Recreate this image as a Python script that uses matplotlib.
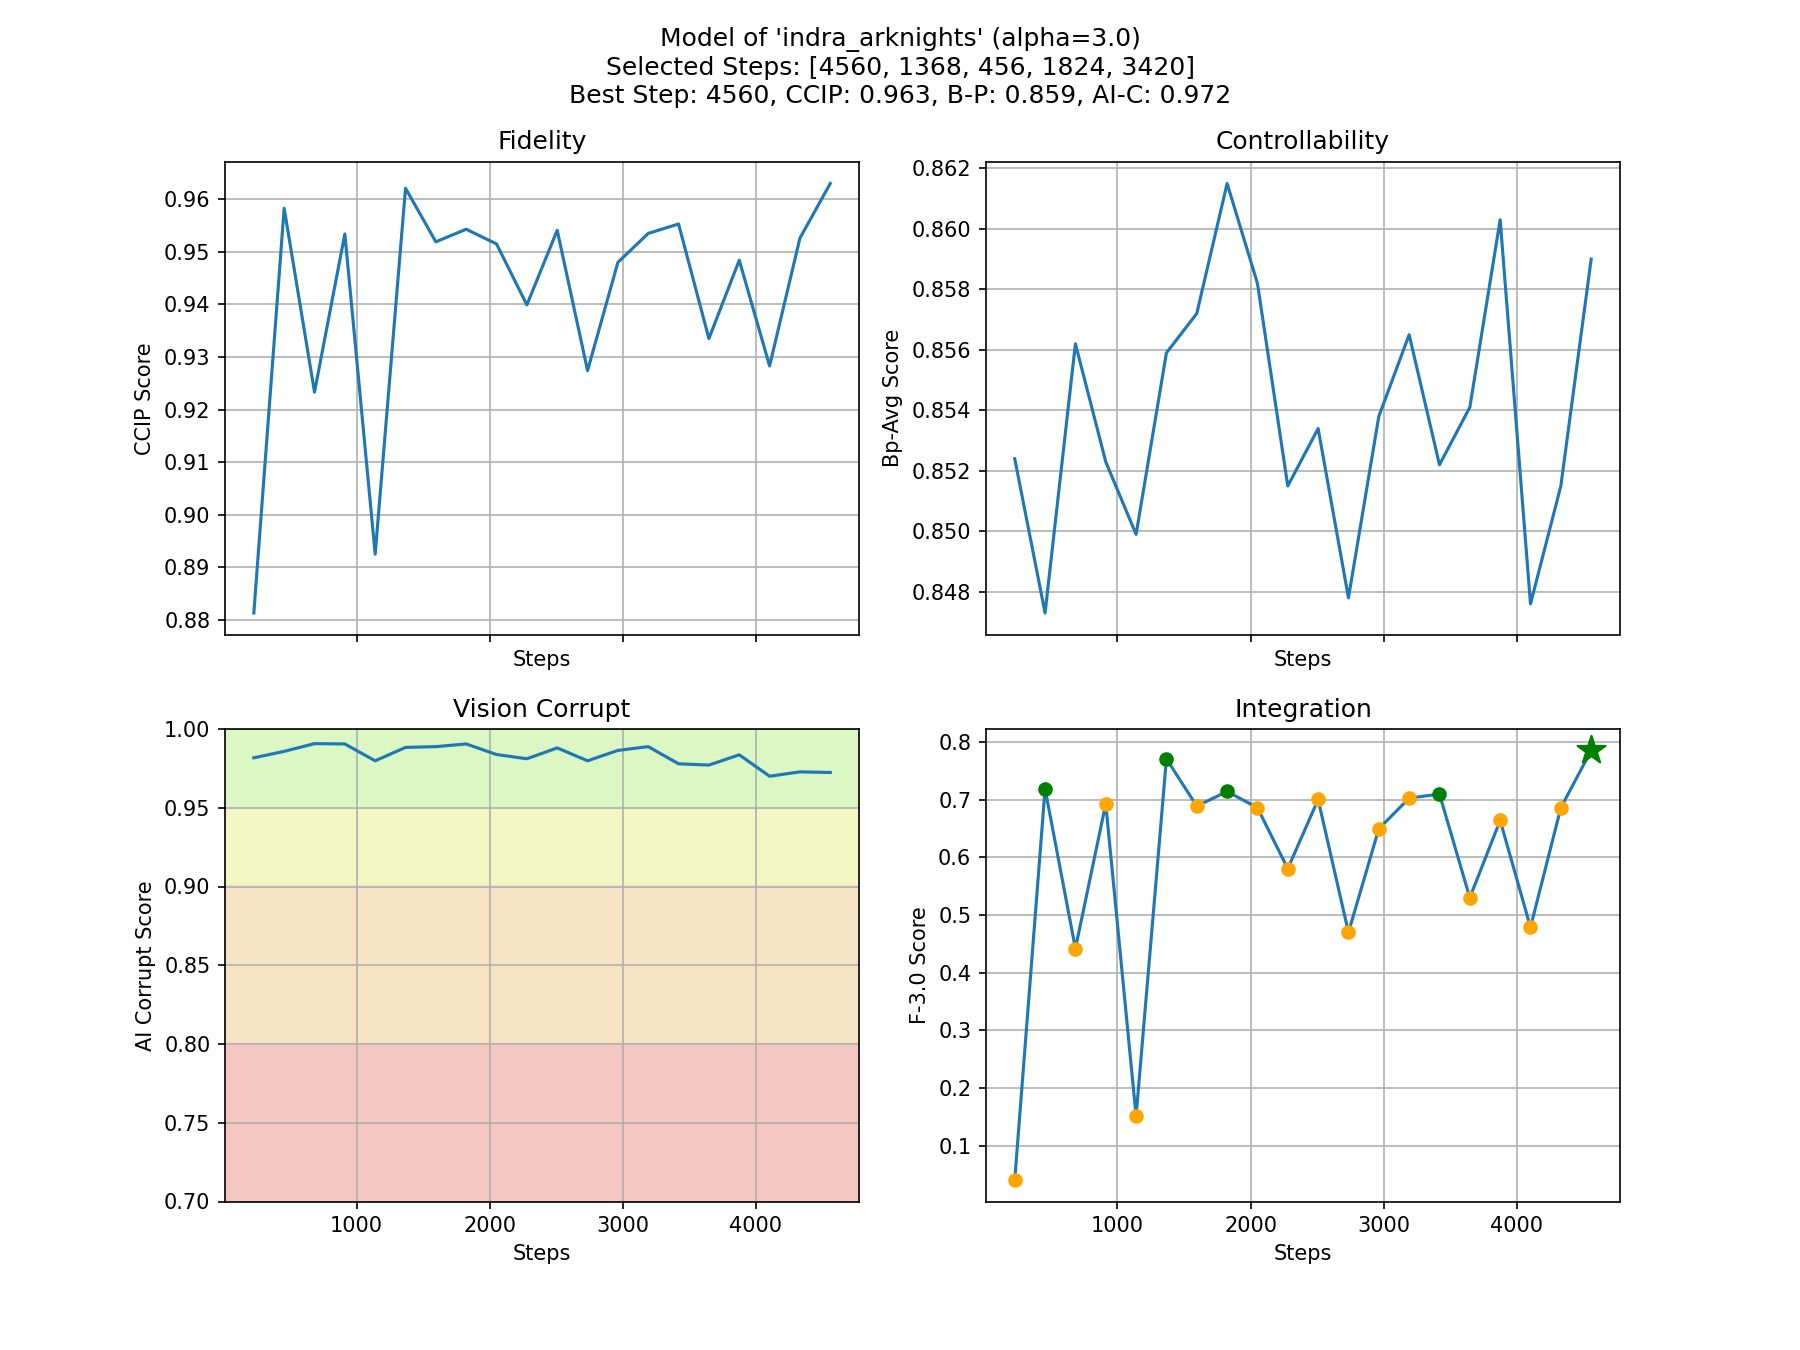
import matplotlib

matplotlib.use("Agg")
import matplotlib.pyplot as plt

# Data
steps = [228, 456, 684, 912, 1140, 1368, 1596, 1824, 2052, 2280,
         2508, 2736, 2964, 3192, 3420, 3648, 3876, 4104, 4332, 4560]
ccip = [0.8813, 0.9583, 0.9233, 0.9534, 0.8925, 0.9621, 0.9519, 0.9543, 0.9515, 0.9399,
        0.9541, 0.9274, 0.9480, 0.9535, 0.9553, 0.9335, 0.9484, 0.9283, 0.9526, 0.9630]
bp = [0.8524, 0.8473, 0.8562, 0.8523, 0.8499, 0.8559, 0.8572, 0.8615, 0.8582, 0.8515,
      0.8534, 0.8478, 0.8538, 0.8565, 0.8522, 0.8541, 0.8603, 0.8476, 0.8515, 0.8590]
aic = [0.9817, 0.9858, 0.9907, 0.9905, 0.9798, 0.9883, 0.9888, 0.9905, 0.9838, 0.9811,
       0.9880, 0.9798, 0.9864, 0.9888, 0.9779, 0.9771, 0.9836, 0.9700, 0.9728, 0.9724]
fscore = [0.0403, 0.7191, 0.4418, 0.6931, 0.1512, 0.7711, 0.6891, 0.7145, 0.6862, 0.5805,
          0.7006, 0.4700, 0.6497, 0.7029, 0.7099, 0.5302, 0.6642, 0.4788, 0.6862, 0.7856]
selected = [4560, 1368, 456, 1824, 3420]
best_step = 4560

# background bands for the AI-corrupt panel: (low, high, colour)
bands = [(0.95, 1.00, "#daf7c4"), (0.90, 0.95, "#f3f7c4"),
         (0.80, 0.90, "#f6e3c4"), (0.70, 0.80, "#f5c7c1")]

fig, axes = plt.subplots(2, 2, figsize=(12, 9), sharex=True)
fig.suptitle(
    "Model of 'indra_arknights' (alpha=3.0)\n"
    f"Selected Steps: [{', '.join(str(s) for s in selected)}]\n"
    f"Best Step: {best_step}, CCIP: 0.963, B-P: 0.859, AI-C: 0.972"
)

ax = axes[0, 0]
ax.plot(steps, ccip)
ax.set_title("Fidelity")
ax.set_xlabel("Steps")
ax.set_ylabel("CCIP Score")
ax.grid(True)

ax = axes[0, 1]
ax.plot(steps, bp)
ax.set_title("Controllability")
ax.set_xlabel("Steps")
ax.set_ylabel("Bp-Avg Score")
ax.grid(True)

ax = axes[1, 0]
for lo, hi, c in bands:
    ax.axhspan(lo, hi, color=c)
ax.plot(steps, aic)
ax.set_ylim(0.70, 1.00)
ax.set_title("Vision Corrupt")
ax.set_xlabel("Steps")
ax.set_ylabel("AI Corrupt Score")
ax.grid(True)

ax = axes[1, 1]
ax.plot(steps, fscore)
for s, f in zip(steps, fscore):
    if s == best_step:
        ax.scatter(s, f, color="green", marker="*", s=200, zorder=3)
    elif s in selected:
        ax.scatter(s, f, color="green", zorder=3)
    else:
        ax.scatter(s, f, color="orange", zorder=3)
ax.set_title("Integration")
ax.set_xlabel("Steps")
ax.set_ylabel("F-3.0 Score")
ax.grid(True)

fig.savefig("out.png", dpi=150)
plt.close(fig)
